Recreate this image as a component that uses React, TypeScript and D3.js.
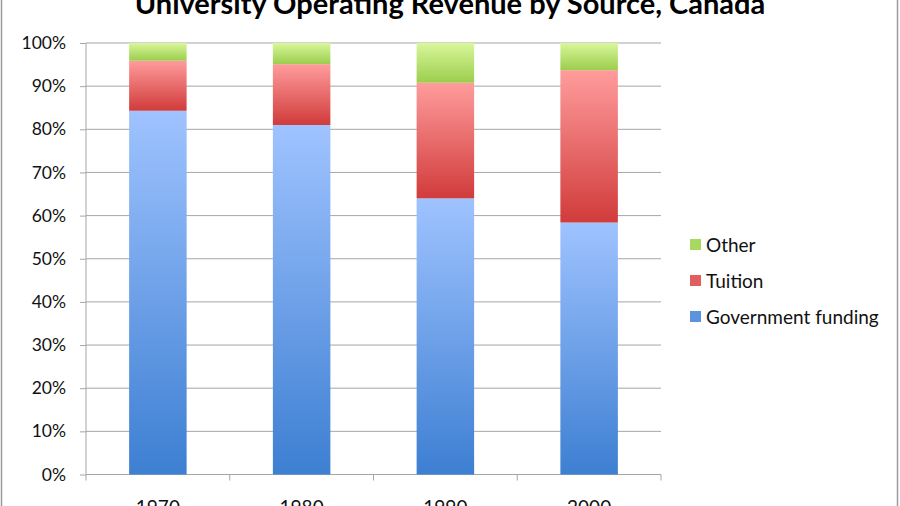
import { useEffect, useRef } from "react"
import * as d3 from "d3"

// Datos
const years = ["1970", "1980", "1990", "2000"]
const government = [84.3, 81.0, 64.0, 58.4]
const tuition = [11.6, 14.1, 26.8, 35.3]
const other = [4.1, 4.9, 9.2, 6.3]
const seriesNames = ["Government funding", "Tuition", "Other"]
const yTicks = [0, 10, 20, 30, 40, 50, 60, 70, 80, 90, 100]

const gradients = [
  { id: "g-gov", top: "#9fc3ff", bottom: "#3d7fd2" },
  { id: "g-tui", top: "#ff9c9c", bottom: "#d13b3b" },
  { id: "g-oth", top: "#d8f79a", bottom: "#9ccd4d" },
]
const legendColors = ["#5b93e0", "#e06060", "#a9d860"]

export default function App() {
  const svgRef = useRef<SVGSVGElement>(null)

  useEffect(() => {
    if (!svgRef.current) return
    const svg = d3.select(svgRef.current)
    svg.selectAll("*").remove()

    const width = 900
    const height = 506
    const margin = { top: 43, right: 239, bottom: 31.5, left: 86 }
    const font = "Lato, 'Open Sans', sans-serif"

    // Marco exterior
    svg
      .append("rect")
      .attr("x", 1.5)
      .attr("y", -10)
      .attr("width", width - 4)
      .attr("height", height + 20)
      .attr("fill", "#fff")
      .attr("stroke", "#9a9a9a")
      .attr("stroke-width", 1.5)

    // Gradientes
    const defs = svg.append("defs")
    gradients.forEach((g) => {
      const lg = defs.append("linearGradient").attr("id", g.id).attr("x1", 0).attr("y1", 0).attr("x2", 0).attr("y2", 1)
      lg.append("stop").attr("offset", "0%").attr("stop-color", g.top)
      lg.append("stop").attr("offset", "100%").attr("stop-color", g.bottom)
    })

    const table = years.map((y, i) => ({
      year: y,
      "Government funding": government[i],
      Tuition: tuition[i],
      Other: other[i],
    }))
    const stack = d3.stack<any>().keys(seriesNames)
    const series = stack(table)

    const x = d3
      .scaleBand()
      .domain(years)
      .range([margin.left, width - margin.right])
      .paddingInner(0.6)
      .paddingOuter(0.3)
    const y = d3
      .scaleLinear()
      .domain([0, 100])
      .range([height - margin.bottom, margin.top])

    // Rejilla
    svg
      .append("g")
      .selectAll("line")
      .data(yTicks.slice(1))
      .enter()
      .append("line")
      .attr("x1", margin.left)
      .attr("x2", width - margin.right)
      .attr("y1", (d) => y(d))
      .attr("y2", (d) => y(d))
      .attr("stroke", "#a6a6a6")
      .attr("stroke-width", 1)

    // Eje Y
    const yAxis = d3
      .axisLeft(y)
      .tickValues(yTicks)
      .tickSize(6)
      .tickPadding(14)
      .tickFormat((d) => `${d}%`)
    const gy = svg.append("g").attr("transform", `translate(${margin.left},0)`).call(yAxis)
    gy.selectAll("line").attr("stroke", "#a6a6a6")
    gy.select(".domain").attr("stroke", "#a6a6a6").attr("d", `M0,${y(100)}V${y(0)}`)
    gy.selectAll("text").attr("font-family", font).attr("font-size", 17.5).attr("fill", "#111")

    // Eje X
    const boundaries = years.map((_, i) => margin.left + i * x.step()).concat([width - margin.right])
    const gx = svg.append("g")
    gx.append("line")
      .attr("x1", margin.left)
      .attr("x2", width - margin.right)
      .attr("y1", y(0))
      .attr("y2", y(0))
      .attr("stroke", "#a6a6a6")
    gx.selectAll(".tk")
      .data(boundaries)
      .enter()
      .append("line")
      .attr("x1", (d) => d)
      .attr("x2", (d) => d)
      .attr("y1", y(0))
      .attr("y2", y(0) + 6)
      .attr("stroke", "#a6a6a6")
    gx.selectAll("text")
      .data(years)
      .enter()
      .append("text")
      .attr("x", (d) => x(d)! + x.bandwidth() / 2)
      .attr("y", 514)
      .attr("text-anchor", "middle")
      .attr("font-family", font)
      .attr("font-size", 19)
      .attr("fill", "#111")
      .text((d) => d)

    // Barras
    series.forEach((s, si) => {
      svg
        .append("g")
        .selectAll("rect")
        .data(s)
        .enter()
        .append("rect")
        .attr("x", (d) => x(d.data.year)!)
        .attr("y", (d) => y(d[1]))
        .attr("width", x.bandwidth())
        .attr("height", (d) => y(d[0]) - y(d[1]))
        .attr("fill", `url(#${gradients[si].id})`)
    })

    // Título
    svg
      .append("text")
      .attr("x", 450)
      .attr("y", 14)
      .attr("text-anchor", "middle")
      .attr("font-family", font)
      .attr("font-weight", "bold")
      .attr("font-size", 29)
      .attr("fill", "#000")
      .text("University Operating Revenue by Source, Canada")

    // Leyenda
    const legend = svg.append("g").attr("transform", "translate(690, 245)")
    const order = [2, 1, 0]
    order.forEach((si, i) => {
      const row = legend.append("g").attr("transform", `translate(0, ${i * 36})`)
      row.append("rect").attr("x", 0).attr("y", -6).attr("width", 11).attr("height", 11).attr("fill", legendColors[si])
      row
        .append("text")
        .attr("x", 16)
        .attr("y", 6.5)
        .attr("font-family", font)
        .attr("font-size", 19)
        .attr("fill", "#111")
        .text(seriesNames[si])
    })
  }, [])

  return (
    <svg
      ref={svgRef}
      width={900}
      height={506}
      viewBox="0 0 900 506"
      style={{ position: "absolute", left: 0, top: 0, background: "#fff" }}
    />
  )
}
